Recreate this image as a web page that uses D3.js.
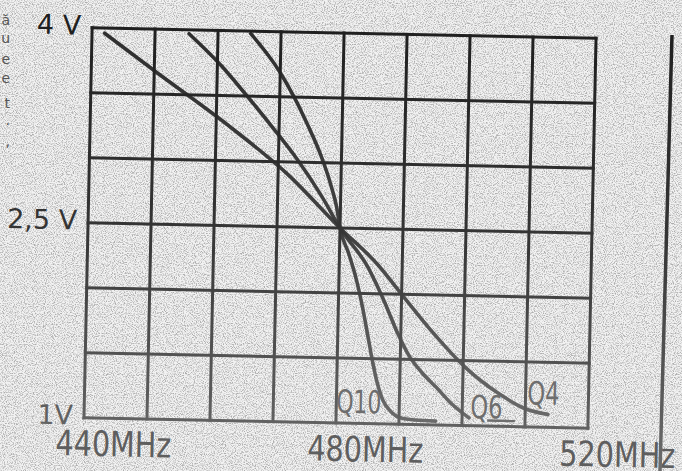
<!DOCTYPE html>
<html>
<head>
<meta charset="utf-8">
<script src="https://d3js.org/d3.v7.min.js"></script>
<style>
  html, body { margin: 0; padding: 0; background: #e6e6e6; }
  svg { display: block; }
</style>
</head>
<body>
<svg id="chart"></svg>
<script>
// grid (10 MHz / 0.5 V per square)
var gridFreqs = [440, 450, 460, 470, 480, 490, 500, 510, 520];
var gridVolts = [1, 1.5, 2, 2.5, 3, 3.5, 4];

// tick labels
var xLabelValues = [440, 480, 520];
var xLabelText = ["440MHz", "480MHz", "520MHz"];
var yLabelValues = [4, 2.5, 1];
var yLabelText = ["4 V", "2,5 V", "1V"];

// curves (MHz, V)
var q4Freq = [442, 450.3, 462.5, 471.4, 480, 486.2, 490, 495.1, 500.3, 505.8, 510, 513.6];
var q4Volt = [3.96, 3.67, 3.25, 2.91, 2.5, 2.22, 2.0, 1.71, 1.45, 1.25, 1.14, 1.10];

var q6Freq = [455.4, 460.6, 464.1, 469.7, 473, 477, 480, 484.6, 487.2, 489.5, 491.5, 493.5, 495.8, 498.2, 501.1];
var q6Volt = [3.97, 3.73, 3.54, 3.22, 3.02, 2.74, 2.5, 2.2, 1.95, 1.70, 1.52, 1.40, 1.29, 1.17, 1.06];

var q10Freq = [465.2, 469.8, 472.4, 474.5, 476.6, 478.4, 479.4, 480, 481.5, 482.8, 483.9, 484.8, 485.6, 486.4, 487.4, 488.6, 490.2, 492.5, 495.8];
var q10Volt = [3.98, 3.70, 3.49, 3.29, 3.07, 2.83, 2.66, 2.5, 2.30, 2.10, 1.88, 1.67, 1.48, 1.32, 1.18, 1.10, 1.05, 1.035, 1.03];

// curve labels: name, position (MHz, V)
var curveNames = ["Q10", "Q6", "Q4"];
var curveLabelFreq = [480, 501.3, 510.3];
var curveLabelVolt = [1.08, 1.06, 1.175];

// scraps of text from the neighbouring column of the page
var marginText = ["ă", "u", "e", "e", "t", ".", ","];
var marginY = [25, 43, 64, 83, 108, 125, 146];

var width = 682, height = 471;

var svg = d3.select("#chart")
    .attr("width", width)
    .attr("height", height);

var defs = svg.append("defs");

// paper grain
var grain = defs.append("filter")
    .attr("id", "grain")
    .attr("x", 0).attr("y", 0)
    .attr("width", "100%").attr("height", "100%");
grain.append("feTurbulence")
    .attr("type", "fractalNoise")
    .attr("baseFrequency", 0.9)
    .attr("numOctaves", 2)
    .attr("seed", 7);
grain.append("feColorMatrix")
    .attr("type", "matrix")
    .attr("values", "0 0 0 0 0.42  0 0 0 0 0.42  0 0 0 0 0.42  3.2 0 0 0 -1.38");

// the scan gets lighter towards the bottom
var ink = defs.append("linearGradient")
    .attr("id", "ink")
    .attr("gradientUnits", "userSpaceOnUse")
    .attr("x1", 0).attr("y1", 0)
    .attr("x2", 0).attr("y2", height);
ink.append("stop").attr("offset", "0%").attr("stop-color", "#1c1c1c");
ink.append("stop").attr("offset", "50%").attr("stop-color", "#353535");
ink.append("stop").attr("offset", "100%").attr("stop-color", "#6c6c6c");

svg.append("rect")
    .attr("width", width)
    .attr("height", height)
    .attr("fill", "#f2f2f2");
svg.append("rect")
    .attr("width", width)
    .attr("height", height)
    .attr("filter", "url(#grain)");

// the sheet is slightly rotated on the scanner
var g = svg.append("g")
    .attr("transform", "rotate(1.2, 340, 228)");

var x = d3.scaleLinear()
    .domain([440, 520])
    .range([88, 592]);

var y = d3.scaleLinear()
    .domain([1, 4])
    .range([423, 33]);

g.selectAll(".vgrid")
    .data(gridFreqs)
    .enter().append("line")
    .attr("class", "vgrid")
    .attr("x1", function(d) { return x(d); })
    .attr("x2", function(d) { return x(d); })
    .attr("y1", y(4))
    .attr("y2", y(1))
    .attr("stroke", "url(#ink)")
    .attr("stroke-width", 3)
    .attr("stroke-linecap", "square");

g.selectAll(".hgrid")
    .data(gridVolts)
    .enter().append("line")
    .attr("class", "hgrid")
    .attr("x1", x(440))
    .attr("x2", x(520))
    .attr("y1", function(d) { return y(d); })
    .attr("y2", function(d) { return y(d); })
    .attr("stroke", "url(#ink)")
    .attr("stroke-width", 3)
    .attr("stroke-linecap", "square");

function toPoints(fs, vs) {
    return fs.map(function(f, i) { return {f: f, v: vs[i]}; });
}

var line = d3.line()
    .x(function(d) { return x(d.f); })
    .y(function(d) { return y(d.v); })
    .curve(d3.curveMonotoneX);

var curves = [toPoints(q4Freq, q4Volt), toPoints(q6Freq, q6Volt), toPoints(q10Freq, q10Volt)];

g.selectAll(".curve")
    .data(curves)
    .enter().append("path")
    .attr("class", "curve")
    .attr("d", line)
    .attr("fill", "none")
    .attr("stroke", "url(#ink)")
    .attr("stroke-width", 3.6)
    .attr("stroke-linecap", "round")
    .attr("stroke-linejoin", "round")
    .attr("stroke-opacity", 0.92);

// curve labels
g.selectAll(".qlabel")
    .data(curveNames)
    .enter().append("text")
    .attr("class", "qlabel")
    .attr("x", function(d, i) { return x(curveLabelFreq[i]); })
    .attr("y", function(d, i) { return y(curveLabelVolt[i]); })
    .attr("textLength", function(d) { return d.length * 13 + 6; })
    .attr("lengthAdjust", "spacingAndGlyphs")
    .style("font-family", "DejaVu Sans, sans-serif")
    .style("font-size", "32px")
    .attr("fill", "#6e6e6e")
    .text(function(d) { return d; });

// underline under Q6
g.append("line")
    .attr("x1", x(504))
    .attr("x2", x(508.4))
    .attr("y1", y(1.043))
    .attr("y2", y(1.043))
    .attr("stroke", "#6e6e6e")
    .attr("stroke-width", 2.5);

// frequency labels
g.selectAll(".xlabel")
    .data(xLabelValues)
    .enter().append("text")
    .attr("class", "xlabel")
    .attr("x", function(d) { return x(d) - 28; })
    .attr("y", y(1) + 38)
    .attr("textLength", 116)
    .attr("lengthAdjust", "spacingAndGlyphs")
    .style("font-family", "DejaVu Sans, sans-serif")
    .style("font-size", "35px")
    .attr("fill", "#5e5e5e")
    .text(function(d, i) { return xLabelText[i]; });

// voltage labels
g.selectAll(".ylabel")
    .data(yLabelValues)
    .enter().append("text")
    .attr("class", "ylabel")
    .attr("x", x(440) - 11)
    .attr("y", function(d) { return y(d) + 7; })
    .attr("text-anchor", "end")
    .style("font-family", "DejaVu Sans, sans-serif")
    .style("font-size", "27px")
    .attr("fill", "url(#ink)")
    .text(function(d, i) { return yLabelText[i]; });

// edge of the next figure on the right
svg.append("line")
    .attr("x1", 672).attr("y1", 35)
    .attr("x2", 660).attr("y2", height)
    .attr("stroke", "url(#ink)")
    .attr("stroke-width", 3.5);

svg.selectAll(".margin")
    .data(marginText)
    .enter().append("text")
    .attr("class", "margin")
    .attr("x", 10)
    .attr("y", function(d, i) { return marginY[i]; })
    .attr("text-anchor", "end")
    .style("font-family", "DejaVu Sans, sans-serif")
    .style("font-size", "14px")
    .attr("fill", "#555")
    .text(function(d) { return d; });
</script>
</body>
</html>
